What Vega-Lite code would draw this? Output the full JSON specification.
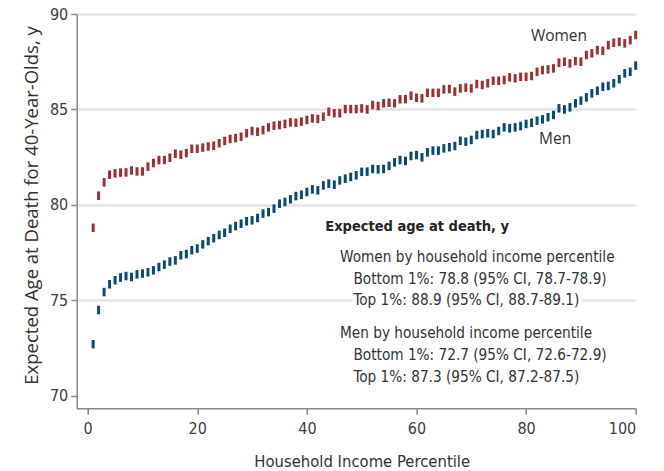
{
  "$schema": "https://vega.github.io/schema/vega-lite/v6.json",
  "autosize": "none",
  "padding": {"left": 76.7, "top": 14, "right": 28.3, "bottom": 62.7},
  "width": 559,
  "height": 394.3,
  "background": "white",
  "config": {"view": {"stroke": null}},
  "layer": [
    {
      "data": {"values": [
        {"p":1,"sex":"Women","v":78.8},{"p":2,"sex":"Women","v":80.48},{"p":3,"sex":"Women","v":81.18},{"p":4,"sex":"Women","v":81.58},{"p":5,"sex":"Women","v":81.65},
        {"p":6,"sex":"Women","v":81.69},{"p":7,"sex":"Women","v":81.7},{"p":8,"sex":"Women","v":81.8},{"p":9,"sex":"Women","v":81.75},{"p":10,"sex":"Women","v":81.75},
        {"p":11,"sex":"Women","v":82.0},{"p":12,"sex":"Women","v":82.19},{"p":13,"sex":"Women","v":82.35},{"p":14,"sex":"Women","v":82.35},{"p":15,"sex":"Women","v":82.47},
        {"p":16,"sex":"Women","v":82.68},{"p":17,"sex":"Women","v":82.63},{"p":18,"sex":"Women","v":82.71},{"p":19,"sex":"Women","v":82.94},{"p":20,"sex":"Women","v":82.94},
        {"p":21,"sex":"Women","v":83.0},{"p":22,"sex":"Women","v":83.06},{"p":23,"sex":"Women","v":83.1},{"p":24,"sex":"Women","v":83.23},{"p":25,"sex":"Women","v":83.35},
        {"p":26,"sex":"Women","v":83.45},{"p":27,"sex":"Women","v":83.5},{"p":28,"sex":"Women","v":83.57},{"p":29,"sex":"Women","v":83.75},{"p":30,"sex":"Women","v":83.87},
        {"p":31,"sex":"Women","v":83.83},{"p":32,"sex":"Women","v":83.92},{"p":33,"sex":"Women","v":84.06},{"p":34,"sex":"Women","v":84.15},{"p":35,"sex":"Women","v":84.18},
        {"p":36,"sex":"Women","v":84.24},{"p":37,"sex":"Women","v":84.32},{"p":38,"sex":"Women","v":84.3},{"p":39,"sex":"Women","v":84.36},{"p":40,"sex":"Women","v":84.45},
        {"p":41,"sex":"Women","v":84.53},{"p":42,"sex":"Women","v":84.5},{"p":43,"sex":"Women","v":84.62},{"p":44,"sex":"Women","v":84.88},{"p":45,"sex":"Women","v":84.8},
        {"p":46,"sex":"Women","v":84.8},{"p":47,"sex":"Women","v":85.02},{"p":48,"sex":"Women","v":85.02},{"p":49,"sex":"Women","v":85.02},{"p":50,"sex":"Women","v":85.05},
        {"p":51,"sex":"Women","v":85.0},{"p":52,"sex":"Women","v":85.23},{"p":53,"sex":"Women","v":85.18},{"p":54,"sex":"Women","v":85.32},{"p":55,"sex":"Women","v":85.35},
        {"p":56,"sex":"Women","v":85.32},{"p":57,"sex":"Women","v":85.53},{"p":58,"sex":"Women","v":85.54},{"p":59,"sex":"Women","v":85.72},{"p":60,"sex":"Women","v":85.61},
        {"p":61,"sex":"Women","v":85.58},{"p":62,"sex":"Women","v":85.87},{"p":63,"sex":"Women","v":85.87},{"p":64,"sex":"Women","v":85.87},{"p":65,"sex":"Women","v":86.05},
        {"p":66,"sex":"Women","v":86.07},{"p":67,"sex":"Women","v":85.93},{"p":68,"sex":"Women","v":86.1},{"p":69,"sex":"Women","v":86.14},{"p":70,"sex":"Women","v":86.1},
        {"p":71,"sex":"Women","v":86.33},{"p":72,"sex":"Women","v":86.28},{"p":73,"sex":"Women","v":86.37},{"p":74,"sex":"Women","v":86.5},{"p":75,"sex":"Women","v":86.5},
        {"p":76,"sex":"Women","v":86.54},{"p":77,"sex":"Women","v":86.68},{"p":78,"sex":"Women","v":86.63},{"p":79,"sex":"Women","v":86.71},{"p":80,"sex":"Women","v":86.71},
        {"p":81,"sex":"Women","v":86.75},{"p":82,"sex":"Women","v":86.97},{"p":83,"sex":"Women","v":87.06},{"p":84,"sex":"Women","v":87.1},{"p":85,"sex":"Women","v":87.15},
        {"p":86,"sex":"Women","v":87.45},{"p":87,"sex":"Women","v":87.5},{"p":88,"sex":"Women","v":87.41},{"p":89,"sex":"Women","v":87.53},{"p":90,"sex":"Women","v":87.5},
        {"p":91,"sex":"Women","v":87.85},{"p":92,"sex":"Women","v":87.94},{"p":93,"sex":"Women","v":88.11},{"p":94,"sex":"Women","v":88.07},{"p":95,"sex":"Women","v":88.37},
        {"p":96,"sex":"Women","v":88.49},{"p":97,"sex":"Women","v":88.54},{"p":98,"sex":"Women","v":88.46},{"p":99,"sex":"Women","v":88.63},{"p":100,"sex":"Women","v":88.9},
        {"p":1,"sex":"Men","v":72.7},{"p":2,"sex":"Men","v":74.49},{"p":3,"sex":"Men","v":75.43},{"p":4,"sex":"Men","v":75.84},{"p":5,"sex":"Men","v":76.05},
        {"p":6,"sex":"Men","v":76.19},{"p":7,"sex":"Men","v":76.27},{"p":8,"sex":"Men","v":76.22},{"p":9,"sex":"Men","v":76.36},{"p":10,"sex":"Men","v":76.4},
        {"p":11,"sex":"Men","v":76.47},{"p":12,"sex":"Men","v":76.57},{"p":13,"sex":"Men","v":76.74},{"p":14,"sex":"Men","v":76.87},{"p":15,"sex":"Men","v":77.03},
        {"p":16,"sex":"Men","v":77.09},{"p":17,"sex":"Men","v":77.36},{"p":18,"sex":"Men","v":77.42},{"p":19,"sex":"Men","v":77.62},{"p":20,"sex":"Men","v":77.71},
        {"p":21,"sex":"Men","v":77.93},{"p":22,"sex":"Men","v":78.1},{"p":23,"sex":"Men","v":78.25},{"p":24,"sex":"Men","v":78.42},{"p":25,"sex":"Men","v":78.54},
        {"p":26,"sex":"Men","v":78.75},{"p":27,"sex":"Men","v":78.89},{"p":28,"sex":"Men","v":79.01},{"p":29,"sex":"Men","v":79.14},{"p":30,"sex":"Men","v":79.19},
        {"p":31,"sex":"Men","v":79.31},{"p":32,"sex":"Men","v":79.54},{"p":33,"sex":"Men","v":79.62},{"p":34,"sex":"Men","v":79.8},{"p":35,"sex":"Men","v":80.06},
        {"p":36,"sex":"Men","v":80.15},{"p":37,"sex":"Men","v":80.29},{"p":38,"sex":"Men","v":80.46},{"p":39,"sex":"Men","v":80.53},{"p":40,"sex":"Men","v":80.67},
        {"p":41,"sex":"Men","v":80.81},{"p":42,"sex":"Men","v":80.76},{"p":43,"sex":"Men","v":81.02},{"p":44,"sex":"Men","v":81.11},{"p":45,"sex":"Men","v":81.06},
        {"p":46,"sex":"Men","v":81.28},{"p":47,"sex":"Men","v":81.37},{"p":48,"sex":"Men","v":81.46},{"p":49,"sex":"Men","v":81.55},{"p":50,"sex":"Men","v":81.73},
        {"p":51,"sex":"Men","v":81.74},{"p":52,"sex":"Men","v":81.88},{"p":53,"sex":"Men","v":81.86},{"p":54,"sex":"Men","v":81.88},{"p":55,"sex":"Men","v":82.04},
        {"p":56,"sex":"Men","v":82.23},{"p":57,"sex":"Men","v":82.35},{"p":58,"sex":"Men","v":82.3},{"p":59,"sex":"Men","v":82.56},{"p":60,"sex":"Men","v":82.61},
        {"p":61,"sex":"Men","v":82.49},{"p":62,"sex":"Men","v":82.75},{"p":63,"sex":"Men","v":82.84},{"p":64,"sex":"Men","v":82.84},{"p":65,"sex":"Men","v":82.96},
        {"p":66,"sex":"Men","v":83.02},{"p":67,"sex":"Men","v":83.08},{"p":68,"sex":"Men","v":83.36},{"p":69,"sex":"Men","v":83.31},{"p":70,"sex":"Men","v":83.4},
        {"p":71,"sex":"Men","v":83.66},{"p":72,"sex":"Men","v":83.71},{"p":73,"sex":"Men","v":83.75},{"p":74,"sex":"Men","v":83.71},{"p":75,"sex":"Men","v":83.87},
        {"p":76,"sex":"Men","v":84.06},{"p":77,"sex":"Men","v":84.01},{"p":78,"sex":"Men","v":84.06},{"p":79,"sex":"Men","v":84.13},{"p":80,"sex":"Men","v":84.24},
        {"p":81,"sex":"Men","v":84.3},{"p":82,"sex":"Men","v":84.41},{"p":83,"sex":"Men","v":84.48},{"p":84,"sex":"Men","v":84.59},{"p":85,"sex":"Men","v":84.71},
        {"p":86,"sex":"Men","v":85.06},{"p":87,"sex":"Men","v":85.0},{"p":88,"sex":"Men","v":85.11},{"p":89,"sex":"Men","v":85.32},{"p":90,"sex":"Men","v":85.46},
        {"p":91,"sex":"Men","v":85.63},{"p":92,"sex":"Men","v":85.84},{"p":93,"sex":"Men","v":85.98},{"p":94,"sex":"Men","v":86.19},{"p":95,"sex":"Men","v":86.23},
        {"p":96,"sex":"Men","v":86.37},{"p":97,"sex":"Men","v":86.58},{"p":98,"sex":"Men","v":86.89},{"p":99,"sex":"Men","v":86.97},{"p":100,"sex":"Men","v":87.3}
      ]},
      "mark": {"type": "tick", "orient": "vertical", "thickness": 3, "size": 8.5, "opacity": 1},
      "encoding": {
        "x": {
          "field": "p", "type": "quantitative",
          "scale": {"domain": [-2, 100], "nice": false, "zero": false},
          "axis": {
            "values": [0, 20, 40, 60, 80, 100], "grid": false,
            "domainColor": "#8a8a8a", "domainWidth": 1.5,
            "tickColor": "#8a8a8a", "tickWidth": 1.5, "tickSize": 6,
            "labelFont": "DejaVu Sans Condensed, sans-serif",
            "labelFontSize": 16, "labelColor": "#404040", "labelPadding": 6,
            "title": "Household Income Percentile",
            "titleFont": "DejaVu Sans Condensed, sans-serif",
            "titleFontSize": 16.5, "titleFontWeight": "normal", "titleColor": "#333333",
            "titleX": 285, "titleY": 53, "titleBaseline": "middle", "titleAlign": "center"
          }
        },
        "y": {
          "field": "v", "type": "quantitative",
          "scale": {"domain": [69.34, 90], "nice": false, "zero": false},
          "axis": {
            "values": [70, 75, 80, 85, 90], "grid": true,
            "gridColor": {"condition": {"test": "datum.value <= 70", "value": "transparent"}, "value": "#e4e4e4"},
            "gridWidth": 2.5,
            "domainColor": "#8a8a8a", "domainWidth": 1.5,
            "tickColor": "#8a8a8a", "tickWidth": 1.5, "tickSize": 6,
            "labelFont": "DejaVu Sans Condensed, sans-serif",
            "labelFontSize": 16, "labelColor": "#404040", "labelPadding": 3,
            "title": "Expected Age at Death for 40-Year-Olds, y",
            "titleFont": "Open Sans", "titleFontSize": 18.5, "titleFontWeight": "normal", "titleColor": "#333333",
            "titleX": -44.7, "titleY": 191, "titleAngle": -90, "titleBaseline": "middle", "titleAlign": "center"
          }
        },
        "color": {
          "field": "sex", "type": "nominal",
          "scale": {"domain": ["Women", "Men"], "range": ["#9e2f36", "#0d4a6c"]},
          "legend": null
        }
      }
    },
    {
      "data": {"values": [{"label": "Women"}]},
      "mark": {"type": "text", "font": "Open Sans", "fontSize": 15.5, "color": "#333333", "align": "center", "baseline": "middle"},
      "encoding": {"x": {"datum": 86}, "y": {"datum": 88.85}, "text": {"field": "label"}}
    },
    {
      "data": {"values": [{"label": "Men"}]},
      "mark": {"type": "text", "font": "Open Sans", "fontSize": 15.5, "color": "#333333", "align": "center", "baseline": "middle"},
      "encoding": {"x": {"datum": 85.3}, "y": {"datum": 83.45}, "text": {"field": "label"}}
    },
    {
      "data": {"values": [{"t": "Expected age at death, y"}]},
      "mark": {"type": "text", "font": "DejaVu Sans Condensed, sans-serif", "fontSize": 14.5, "fontWeight": "bold", "color": "#262626", "align": "left", "baseline": "middle"},
      "encoding": {"x": {"datum": 43.35}, "y": {"datum": 78.85}, "text": {"field": "t"}}
    },
    {
      "data": {"values": [{"t": "Women by household income percentile"}]},
      "mark": {"type": "text", "font": "DejaVu Sans Condensed, sans-serif", "fontSize": 15.2, "color": "#333333", "align": "left", "baseline": "middle"},
      "encoding": {"x": {"datum": 46.05}, "y": {"datum": 77.28}, "text": {"field": "t"}}
    },
    {
      "data": {"values": [{"t": "Top 1%: 88.9 (95% CI, 88.7-89.1)"}]},
      "mark": {"type": "text", "font": "DejaVu Sans Condensed, sans-serif", "fontSize": 15.2, "color": "white", "stroke": "white", "strokeWidth": 8, "align": "left", "baseline": "middle"},
      "encoding": {"x": {"datum": 48.5}, "y": {"datum": 75.01}, "text": {"field": "t"}}
    },
    {
      "data": {"values": [{"t": "Bottom 1%: 78.8 (95% CI, 78.7-78.9)"}]},
      "mark": {"type": "text", "font": "DejaVu Sans Condensed, sans-serif", "fontSize": 15.2, "color": "#333333", "align": "left", "baseline": "middle"},
      "encoding": {"x": {"datum": 48.5}, "y": {"datum": 76.11}, "text": {"field": "t"}}
    },
    {
      "data": {"values": [{"t": "Top 1%: 88.9 (95% CI, 88.7-89.1)"}]},
      "mark": {"type": "text", "font": "DejaVu Sans Condensed, sans-serif", "fontSize": 15.2, "color": "#333333", "align": "left", "baseline": "middle"},
      "encoding": {"x": {"datum": 48.5}, "y": {"datum": 75.01}, "text": {"field": "t"}}
    },
    {
      "data": {"values": [{"t": "Men by household income percentile"}]},
      "mark": {"type": "text", "font": "DejaVu Sans Condensed, sans-serif", "fontSize": 15.2, "color": "#333333", "align": "left", "baseline": "middle"},
      "encoding": {"x": {"datum": 46.05}, "y": {"datum": 73.28}, "text": {"field": "t"}}
    },
    {
      "data": {"values": [{"t": "Bottom 1%: 72.7 (95% CI, 72.6-72.9)"}]},
      "mark": {"type": "text", "font": "DejaVu Sans Condensed, sans-serif", "fontSize": 15.2, "color": "#333333", "align": "left", "baseline": "middle"},
      "encoding": {"x": {"datum": 48.5}, "y": {"datum": 72.13}, "text": {"field": "t"}}
    },
    {
      "data": {"values": [{"t": "Top 1%: 87.3 (95% CI, 87.2-87.5)"}]},
      "mark": {"type": "text", "font": "DejaVu Sans Condensed, sans-serif", "fontSize": 15.2, "color": "#333333", "align": "left", "baseline": "middle"},
      "encoding": {"x": {"datum": 48.5}, "y": {"datum": 70.98}, "text": {"field": "t"}}
    }
  ]
}
